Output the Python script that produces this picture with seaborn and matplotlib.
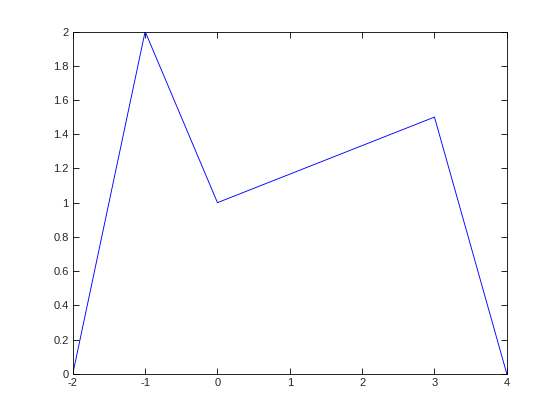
import pandas as pd
import seaborn as sns
import matplotlib.pyplot as plt

# values
x_vals = [-2, -1, 0, 3, 4]
y_vals = [0, 2, 1, 1.5, 0]
x_ticks = [-2, -1, 0, 1, 2, 3, 4]
y_ticks = [0, 0.2, 0.4, 0.6, 0.8, 1, 1.2, 1.4, 1.6, 1.8, 2]

sns.set_style("ticks")
plt.rcParams['font.family'] = ['Liberation Sans', 'DejaVu Sans']

df = pd.DataFrame({'x': x_vals, 'y': y_vals})

fig = plt.figure(figsize=(5.6, 4.2), dpi=100)
ax = fig.add_axes([0.13, 0.11, 0.775, 0.815])

sns.lineplot(data=df, x='x', y='y', sort=False, color='#0000ff',
             linewidth=0.65, ax=ax)

ax.set_xlim(-2, 4)
ax.set_ylim(0, 2)
ax.set_xticks(x_ticks)
ax.set_xticklabels([str(t) for t in x_ticks])
ax.set_yticks(y_ticks)
ax.set_yticklabels([f"{t:g}" for t in y_ticks])
ax.set_xlabel("")
ax.set_ylabel("")
ax.tick_params(direction='in', top=True, right=True, labelsize=8,
               length=4, width=0.6, color='black', pad=3)
for s in ax.spines.values():
    s.set_visible(True)
    s.set_linewidth(0.6)
    s.set_color('black')

fig.savefig('out.png', dpi=100)
